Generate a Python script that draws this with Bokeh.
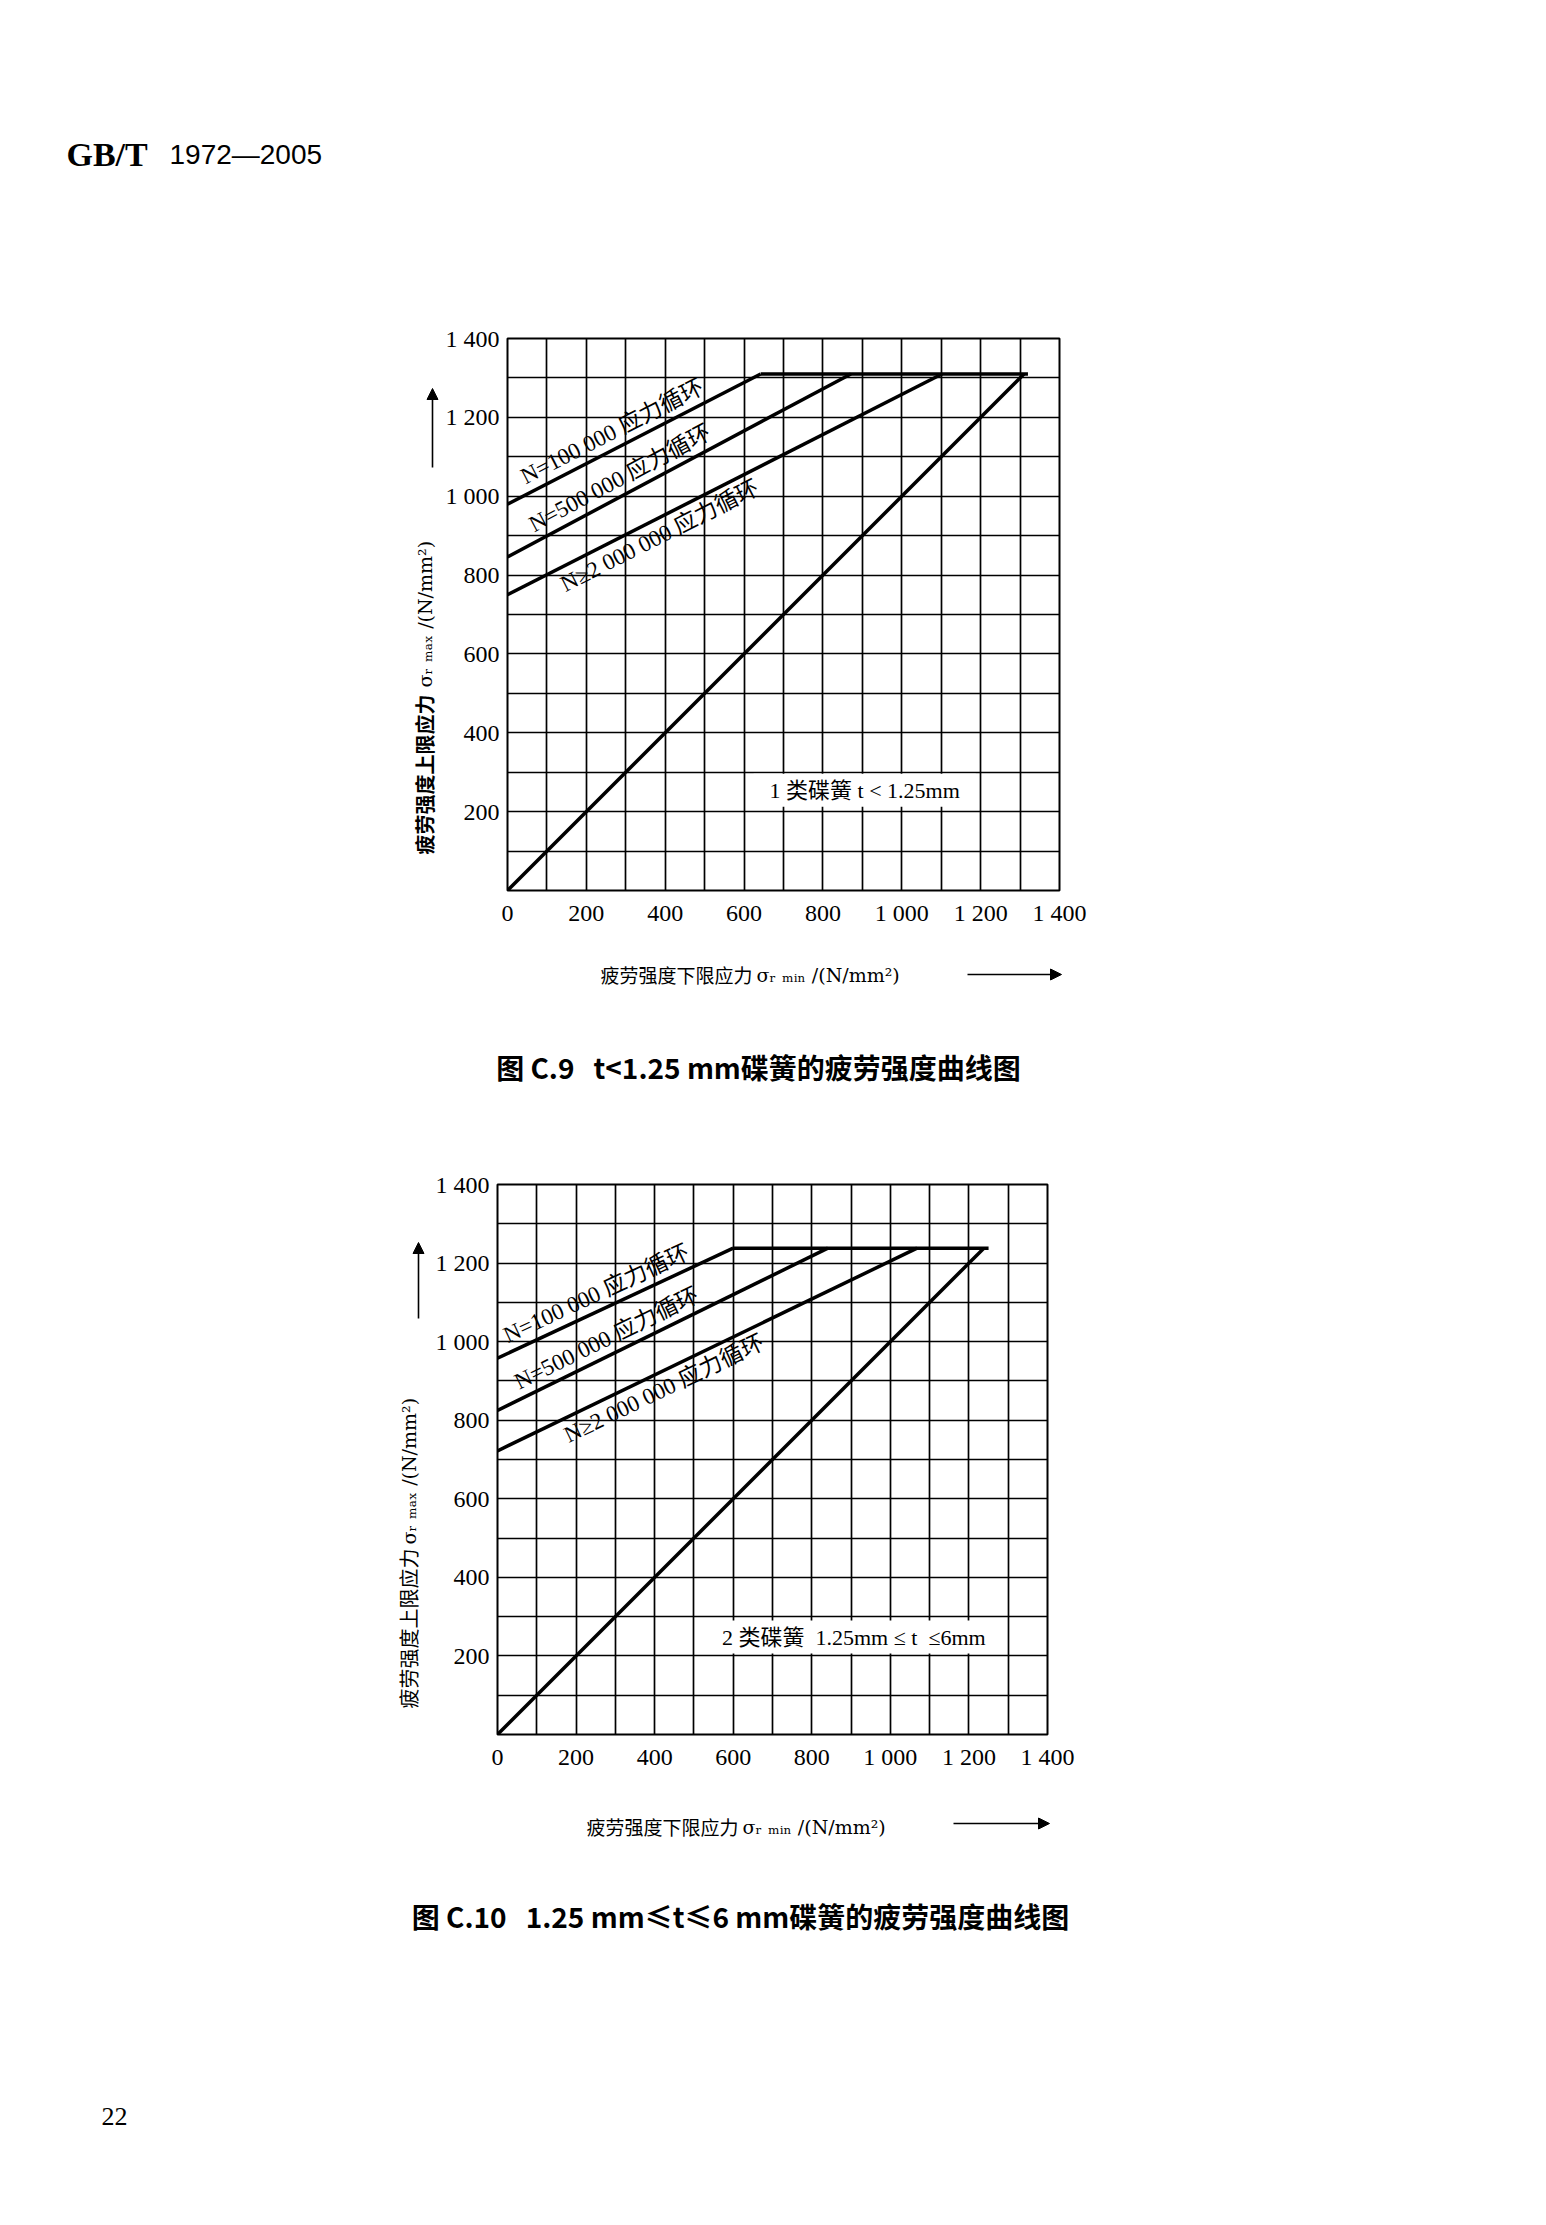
import numpy as np
from bokeh.plotting import figure
from bokeh.models import Range1d, FixedTicker, Label, Arrow, NormalHead
from bokeh.layouts import column, row
from bokeh.embed import file_html
from bokeh.resources import INLINE

# ---------------- data ----------------
x_tick_values = [0, 200, 400, 600, 800, 1000, 1200, 1400]
y_tick_values = [200, 400, 600, 800, 1000, 1200, 1400]
tick_text = {0: "0", 200: "200", 400: "400", 600: "600", 800: "800",
             1000: "1 000", 1200: "1 200", 1400: "1 400"}
grid_values = list(range(0, 1401, 100))

# Figure C.9  (t < 1.25 mm)
c9_diag_x = [0, 1310]
c9_diag_y = [0, 1310]
c9_n100k_x = [0, 642]
c9_n100k_y = [980, 1310]
c9_n500k_x = [0, 871]
c9_n500k_y = [846, 1310]
c9_n2m_x = [0, 1102]
c9_n2m_y = [750, 1310]
c9_plateau_x = [642, 1320]
c9_plateau_y = [1310, 1310]

# Figure C.10  (1.25 mm <= t <= 6 mm)
c10_diag_x = [0, 1238]
c10_diag_y = [0, 1238]
c10_n100k_x = [0, 600]
c10_n100k_y = [958, 1238]
c10_n500k_x = [0, 841]
c10_n500k_y = [825, 1238]
c10_n2m_x = [0, 1068]
c10_n2m_y = [722, 1238]
c10_plateau_x = [600, 1250]
c10_plateau_y = [1238, 1238]

curve_names = ["N=100 000 应力循环", "N=500 000 应力循环", "N≥2 000 000 应力循环"]
curve_side = ["above", "above", "below"]
c9_label_cx = [280, 300, 372]
c10_label_cx = [265, 292, 410]

c9_box_text = "1 类碟簧 t < 1.25mm"
c9_box_xy = (906, 254)
c10_box_text = "2 类碟簧\u00a0\u00a01.25mm ≤ t\u00a0\u00a0≤6mm"
c10_box_xy = (907, 248)

y_label_cjk = "疲劳强度上限应力"
y_label_sym = "σᵣ ₘₐₓ /(N/mm²)"
x_label_cjk = "疲劳强度下限应力"
x_label_sym = "σᵣ ₘᵢₙ /(N/mm²)"
captions = ["图 C.9\u00a0\u00a0\u00a0t<1.25 mm碟簧的疲劳强度曲线图",
            "图 C.10\u00a0\u00a0\u00a01.25 mm≤t≤6 mm碟簧的疲劳强度曲线图"]
header_a = "GB/T"
header_b = "1972—2005"
page_no = "22"

PAGE_W = 1530
SERIF = "Liberation Serif"
MIX = "Liberation Serif, Noto Sans CJK SC"
CJK = "Noto Sans CJK SC"


class TextPanel:
    """A blank figure used to hold page text; positions are given in page pixels.
    ftop/fbottom let its frame line up with a neighbouring chart frame in a row."""

    def __init__(self, x0, y0, w, h, ftop=0, fbottom=0):
        self.x0, self.y0, self.w, self.h = x0, y0, w, h
        self.fb = y0 + h - fbottom
        fh = h - ftop - fbottom
        p = figure(width=w, height=h, x_range=Range1d(0, w), y_range=Range1d(0, fh),
                   frame_width=w, frame_height=fh,
                   min_border_left=0, min_border_right=0,
                   min_border_top=ftop, min_border_bottom=fbottom,
                   x_axis_type=None, y_axis_type=None,
                   output_backend="svg", toolbar_location=None)
        p.outline_line_color = None
        p.background_fill_color = "white"
        p.border_fill_color = "white"
        self.p = p

    def X(self, x):
        return float(x - self.x0)

    def Y(self, y):
        return float(self.fb - y)

    def label(self, txt, x, y, font, size, style="normal", align="left", angle=0.0):
        self.p.add_layout(Label(x=self.X(x), y=self.Y(y), text=txt, text_font=font,
                                text_font_size=size, text_font_style=style,
                                text_align=align, text_baseline="middle",
                                angle=float(angle), text_color="black"))

    def arrow(self, xa, ya, xb, yb):
        self.p.add_layout(Arrow(end=NormalHead(size=11, fill_color="black", line_color="black"),
                                x_start=self.X(xa), y_start=self.Y(ya),
                                x_end=self.X(xb), y_end=self.Y(yb),
                                line_color="black", line_width=1.6))


def make_chart(x0, y0, w, h, L, T, W, H, lines, diag, curve_cx, box_text, box_xy):
    p = figure(width=w, height=h, frame_width=W, frame_height=H,
               min_border_left=L - x0, min_border_right=w - (L - x0) - W,
               min_border_top=T - y0, min_border_bottom=y0 + h - (T + H),
               x_range=Range1d(0, 1400), y_range=Range1d(0, 1400),
               output_backend="svg", toolbar_location=None)
    p.background_fill_color = "white"
    p.border_fill_color = "white"
    p.outline_line_color = "black"
    p.outline_line_width = 2

    for ax in (p.xaxis[0], p.yaxis[0]):
        ax.axis_line_color = None
        ax.major_tick_line_color = None
        ax.minor_tick_line_color = None
        ax.major_label_text_font = SERIF
        ax.major_label_text_font_size = "24px"
        ax.major_label_text_color = "black"
        ax.major_label_overrides = tick_text
    p.xaxis.ticker = FixedTicker(ticks=x_tick_values)
    p.yaxis.ticker = FixedTicker(ticks=y_tick_values)
    p.xaxis.major_label_standoff = 3
    p.yaxis.major_label_standoff = 2
    for g in (p.xgrid[0], p.ygrid[0]):
        g.ticker = FixedTicker(ticks=grid_values)
        g.grid_line_color = "black"
        g.grid_line_width = 1.7
        g.grid_line_alpha = 1.0

    # box label (white background hides grid)
    p.add_layout(Label(x=box_xy[0], y=box_xy[1], text=box_text, text_font=MIX,
                       text_font_size="22px", text_align="center", text_baseline="middle",
                       background_fill_color="white", padding=(16, 4), text_color="black"))

    for (xs, ys) in lines:
        p.line(xs, ys, line_color="black", line_width=3.5)
    p.line(diag[0], diag[1], line_color="black", line_width=3.5)

    sx = W / 1400.0
    sy = H / 1400.0
    for (xs, ys), name, side, c in zip(lines[:3], curve_names, curve_side, curve_cx):
        slope = (ys[1] - ys[0]) / (xs[1] - xs[0])
        ang = np.arctan2((ys[1] - ys[0]) * sy, (xs[1] - xs[0]) * sx)
        gap = 4.0 / sy / np.cos(ang)
        yline = ys[0] + slope * c
        if side == "above":
            p.add_layout(Label(x=c, y=yline + gap, text=name, angle=float(ang),
                               text_font=MIX, text_font_size="23px", text_align="center",
                               text_baseline="bottom", text_color="black"))
        else:
            p.add_layout(Label(x=c, y=yline - gap, text=name, angle=float(ang),
                               text_font=MIX, text_font_size="23px", text_align="center",
                               text_baseline="top", text_color="black"))
    return p


# ---------- page block 1: header ----------
head = TextPanel(8, 8, PAGE_W, 242)
head.label(header_a, 74, 162, SERIF, "34px", "bold")
head.label(header_b, 177, 162, "Liberation Sans", "28px")

# ---------- chart C.9 ----------
ylab1 = TextPanel(8, 250, 442, 690, ftop=96, fbottom=42)
ylab1.label(y_label_cjk, 432, 862, CJK, "20px", "bold", "left", np.pi / 2)
ylab1.label(y_label_sym, 432, 695, "DejaVu Serif", "19px", "normal", "left", np.pi / 2)
ylab1.arrow(440, 475, 440, 396)
chart1 = make_chart(450, 250, 1088, 690, L=513, T=346, W=552, H=552,
                    lines=[(c9_n100k_x, c9_n100k_y), (c9_n500k_x, c9_n500k_y),
                           (c9_n2m_x, c9_n2m_y), (c9_plateau_x, c9_plateau_y)],
                    diag=(c9_diag_x, c9_diag_y), curve_cx=c9_label_cx,
                    box_text=c9_box_text, box_xy=c9_box_xy)
bot1 = TextPanel(8, 940, PAGE_W, 190)
bot1.label(x_label_cjk, 608, 982, CJK, "19px")
bot1.label(x_label_sym, 764, 982, "DejaVu Serif", "19px")
bot1.arrow(975, 982, 1069, 982)
bot1.label(captions[0], 766, 1074, CJK, "28px", "bold", "center")

# ---------- chart C.10 ----------
ylab2 = TextPanel(8, 1130, 432, 660, ftop=62, fbottom=48)
ylab2.label(y_label_cjk, 416, 1716, CJK, "20px", "normal", "left", np.pi / 2)
ylab2.label(y_label_sym, 416, 1552, "DejaVu Serif", "19px", "normal", "left", np.pi / 2)
ylab2.arrow(426, 1326, 426, 1250)
chart2 = make_chart(440, 1130, 1098, 660, L=504, T=1192, W=550, H=550,
                    lines=[(c10_n100k_x, c10_n100k_y), (c10_n500k_x, c10_n500k_y),
                           (c10_n2m_x, c10_n2m_y), (c10_plateau_x, c10_plateau_y)],
                    diag=(c10_diag_x, c10_diag_y), curve_cx=c10_label_cx,
                    box_text=c10_box_text, box_xy=c10_box_xy)
bot2 = TextPanel(8, 1790, PAGE_W, 427)
bot2.label(x_label_cjk, 594, 1834, CJK, "19px")
bot2.label(x_label_sym, 750, 1834, "DejaVu Serif", "19px")
bot2.arrow(961, 1831, 1057, 1831)
bot2.label(captions[1], 748, 1923, CJK, "28px", "bold", "center")
bot2.label(page_no, 109, 2124, SERIF, "26px")

layout = column(head.p,
                row(ylab1.p, chart1, spacing=0),
                bot1.p,
                row(ylab2.p, chart2, spacing=0),
                bot2.p, spacing=0)
open("out.html", "w").write(file_html(layout, INLINE))
